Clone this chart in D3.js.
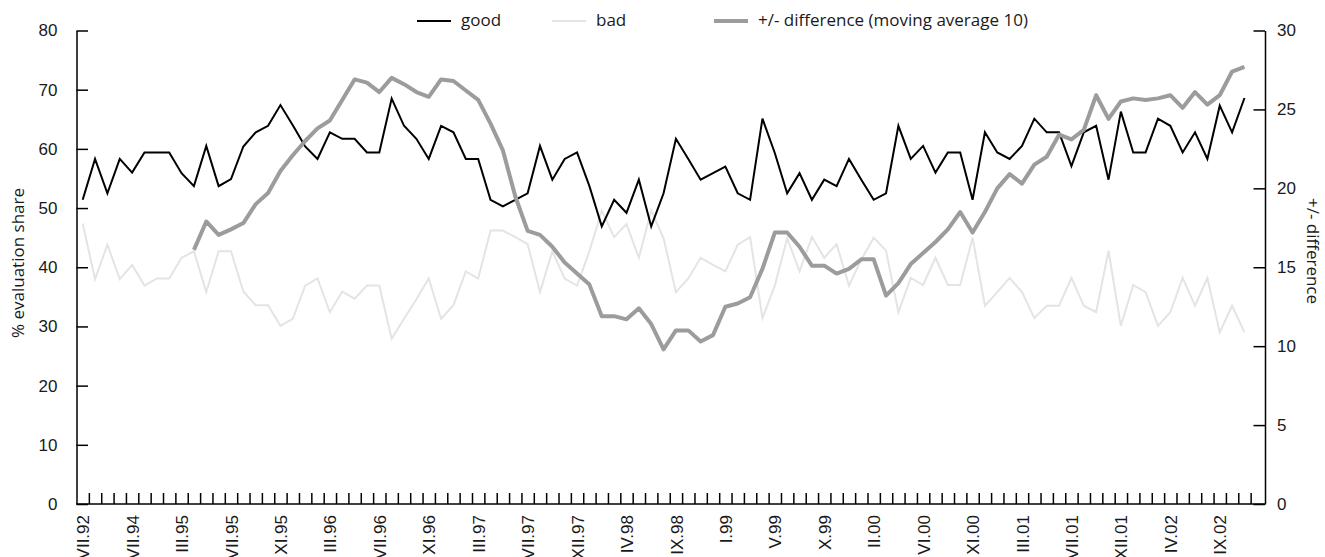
<!DOCTYPE html>
<html>
    <head>
        <title>Good / bad evaluation share</title>
        <script src="https://d3js.org/d3.v7.min.js"></script>
        <style>
            * {
                margin: 0;
                padding: 0;
                box-sizing: border-box;
            }

            body {
                background-color: #ffffff;
                overflow: hidden;
            }

            svg {
                display: block;
                font-family: 'Open Sans', sans-serif;
            }

            .axis text {
                font-size: 17px;
                fill: #1a1a1a;
            }

            .axis path,
            .axis line {
                stroke: #000;
                stroke-width: 1.5px;
            }

            .title,
            .legend text {
                font-size: 17px;
                fill: #1a1a1a;
            }
        </style>
    </head>
    <body>
        <script>
            // shown period labels (every 4th survey)
            const periodLabels = ['VII.92', 'VII.94', 'III.95', 'VII.95', 'XI.95', 'III.96', 'VII.96', 'XI.96', 'III.97', 'VII.97', 'XII.97', 'IV.98',
                'IX.98', 'I.99', 'V.99', 'X.99', 'II.00', 'VI.00', 'XI.00', 'III.01', 'VII.01', 'XII.01', 'IV.02', 'IX.02'];
            const slotCount = 96;

            const good = [
                51.4, 58.3, 52.5, 58.3, 56.0, 59.4, 59.4, 59.4, 55.9, 53.7,
                60.5, 53.7, 54.9, 60.4, 62.8, 63.9, 67.4, 64.0, 60.4, 58.3,
                62.8, 61.7, 61.7, 59.4, 59.4, 68.5, 63.9, 61.7, 58.3, 63.9,
                62.8, 58.3, 58.3, 51.4, 50.3, 51.4, 52.5, 60.5, 54.8, 58.3,
                59.4, 53.7, 46.9, 51.4, 49.2, 54.8, 46.9, 52.5, 61.7, 58.3,
                54.8, 55.9, 57.0, 52.5, 51.4, 65.1, 59.3, 52.5, 55.9, 51.4,
                54.8, 53.7, 58.3, 54.8, 51.4, 52.5, 63.9, 58.3, 60.5, 56.0,
                59.4, 59.4, 51.4, 62.8, 59.4, 58.3, 60.5, 65.1, 62.8, 62.8,
                57.1, 62.8, 63.9, 54.8, 66.3, 59.4, 59.4, 65.1, 63.9, 59.4,
                62.8, 58.3, 67.3, 62.8, 68.6
            ];

            const bad = [
                47.4, 38.0, 43.8, 38.0, 40.4, 36.9, 38.1, 38.1, 41.6, 42.7,
                35.8, 42.7, 42.7, 35.9, 33.6, 33.6, 30.1, 31.3, 36.9, 38.1,
                32.4, 35.9, 34.7, 36.9, 36.9, 27.9, 31.3, 34.6, 38.1, 31.3,
                33.6, 39.3, 38.1, 46.2, 46.2, 45.1, 43.9, 35.8, 42.7, 38.1,
                36.9, 42.7, 49.6, 45.1, 47.3, 41.6, 49.6, 44.9, 35.8, 38.1,
                41.6, 40.4, 39.3, 43.8, 45.1, 31.4, 36.9, 44.9, 39.3, 45.1,
                41.6, 43.9, 36.9, 41.3, 45.0, 42.8, 32.4, 38.2, 37.0, 41.6,
                37.0, 37.0, 45.0, 33.5, 35.8, 38.2, 35.8, 31.4, 33.5, 33.5,
                38.2, 33.5, 32.4, 42.8, 30.1, 37.0, 35.8, 30.1, 32.4, 38.2,
                33.5, 38.2, 29.0, 33.5, 29.0
            ];

            // moving average of the difference, starts at the 10th survey
            const diffAvg = [
                null, null, null, null, null, null, null, null, null, 16.1,
                17.9, 17.05, 17.4, 17.8, 19.0, 19.7, 21.1, 22.1, 23.0, 23.8,
                24.3, 25.6, 26.9, 26.7, 26.1, 27.0, 26.6, 26.1, 25.8, 26.9,
                26.8, 26.2, 25.6, 24.1, 22.4, 19.5, 17.3, 17.05, 16.3, 15.3,
                14.6, 13.9, 11.9, 11.9, 11.7, 12.4, 11.4, 9.8, 11.0, 11.0,
                10.3, 10.7, 12.5, 12.7, 13.1, 14.9, 17.2, 17.2, 16.3, 15.1,
                15.1, 14.6, 14.9, 15.5, 15.5, 13.2, 14.0, 15.2, 15.9, 16.6,
                17.4, 18.5, 17.2, 18.5, 20.0, 20.9, 20.3, 21.5, 22.0, 23.4,
                23.1, 23.7, 25.9, 24.4, 25.5, 25.7, 25.6, 25.7, 25.9, 25.1,
                26.1, 25.3, 25.9, 27.4, 27.7
            ];

            const leftTicks = [0, 10, 20, 30, 40, 50, 60, 70, 80];
            const rightTicks = [0, 5, 10, 15, 20, 25, 30];

            const width = 1325;
            const height = 557;
            const plotLeft = 76.5;
            const plotRight = 1265;
            const plotTop = 30.5;
            const plotBottom = 504;

            const svg = d3.select('body').append('svg').attr('width', width).attr('height', height);

            const x = d3.scaleLinear().domain([0, slotCount]).range([plotLeft, 1263]);
            const yLeft = d3.scaleLinear().domain([0, 80]).range([plotBottom, plotTop]);
            const yRight = d3.scaleLinear().domain([0, 30]).range([plotBottom, plotTop]);

            // left axis
            svg.append('g')
                .attr('class', 'axis')
                .attr('transform', `translate(${plotLeft},0)`)
                .call(d3.axisLeft(yLeft).tickValues(leftTicks).tickSize(-11.5).tickSizeOuter(0).tickPadding(19));

            // right axis
            svg.append('g')
                .attr('class', 'axis')
                .attr('transform', `translate(${plotRight},0)`)
                .call(d3.axisRight(yRight).tickValues(rightTicks).tickSize(-11.5).tickSizeOuter(0).tickPadding(12));

            // bottom axis: tick marks between surveys
            const bottom = svg.append('g').attr('class', 'axis').attr('transform', `translate(0,${plotBottom})`);
            bottom.call(
                d3.axisBottom(x)
                    .tickValues(d3.range(1, slotCount))
                    .tickSize(-11)
                    .tickSizeOuter(0)
                    .tickFormat('')
            );
            bottom.select('.domain').attr('d', `M${plotLeft},0H${plotRight}`);

            // bottom labels at every 4th survey
            const labelAxis = svg.append('g').attr('class', 'axis').attr('transform', `translate(0,${plotBottom})`);
            labelAxis.call(
                d3.axisBottom(x)
                    .tickValues(periodLabels.map((d, i) => i * 4 + 0.5))
                    .tickFormat((d, i) => periodLabels[i])
                    .tickSize(0)
                    .tickPadding(0)
            );
            labelAxis.select('.domain').remove();
            labelAxis.selectAll('text')
                .attr('transform', 'translate(0,11) rotate(-90)')
                .attr('x', 0)
                .attr('y', 0)
                .attr('dy', '0.36em')
                .attr('text-anchor', 'end');

            // lines
            const lineLeft = d3.line()
                .x((d, i) => x(i + 0.5))
                .y((d) => yLeft(d));

            const lineRight = d3.line()
                .defined((d) => d !== null)
                .x((d, i) => x(i + 0.5))
                .y((d) => yRight(d));

            svg.append('path')
                .datum(bad)
                .attr('fill', 'none')
                .attr('stroke', '#e4e4e4')
                .attr('stroke-width', 2)
                .attr('d', lineLeft);

            svg.append('path')
                .datum(good)
                .attr('fill', 'none')
                .attr('stroke', '#000')
                .attr('stroke-width', 2)
                .attr('d', lineLeft);

            svg.append('path')
                .datum(diffAvg)
                .attr('fill', 'none')
                .attr('stroke', '#9c9c9c')
                .attr('stroke-width', 4)
                .attr('stroke-linejoin', 'round')
                .attr('d', lineRight);

            // axis titles
            svg.append('text')
                .attr('class', 'title')
                .attr('transform', 'translate(18,263) rotate(-90)')
                .attr('text-anchor', 'middle')
                .attr('dy', '0.35em')
                .text('% evaluation share');

            svg.append('text')
                .attr('class', 'title')
                .attr('transform', 'translate(1313,251) rotate(90)')
                .attr('text-anchor', 'middle')
                .attr('dy', '0.35em')
                .text('+/- difference');

            // legend
            const legendItems = [
                { name: 'good', x: 417, color: '#000', w: 2 },
                { name: 'bad', x: 552, color: '#e4e4e4', w: 2 },
                { name: '+/- difference (moving average 10)', x: 714, color: '#9c9c9c', w: 4 },
            ];

            const legend = svg.append('g').attr('class', 'legend');
            const item = legend.selectAll('g').data(legendItems).enter().append('g')
                .attr('transform', (d) => `translate(${d.x},21)`);

            item.append('line')
                .attr('x1', 0)
                .attr('x2', 34)
                .attr('stroke', (d) => d.color)
                .attr('stroke-width', (d) => d.w);

            item.append('text')
                .attr('x', 44)
                .attr('dy', '0.32em')
                .text((d) => d.name);
        </script>
    </body>
</html>
